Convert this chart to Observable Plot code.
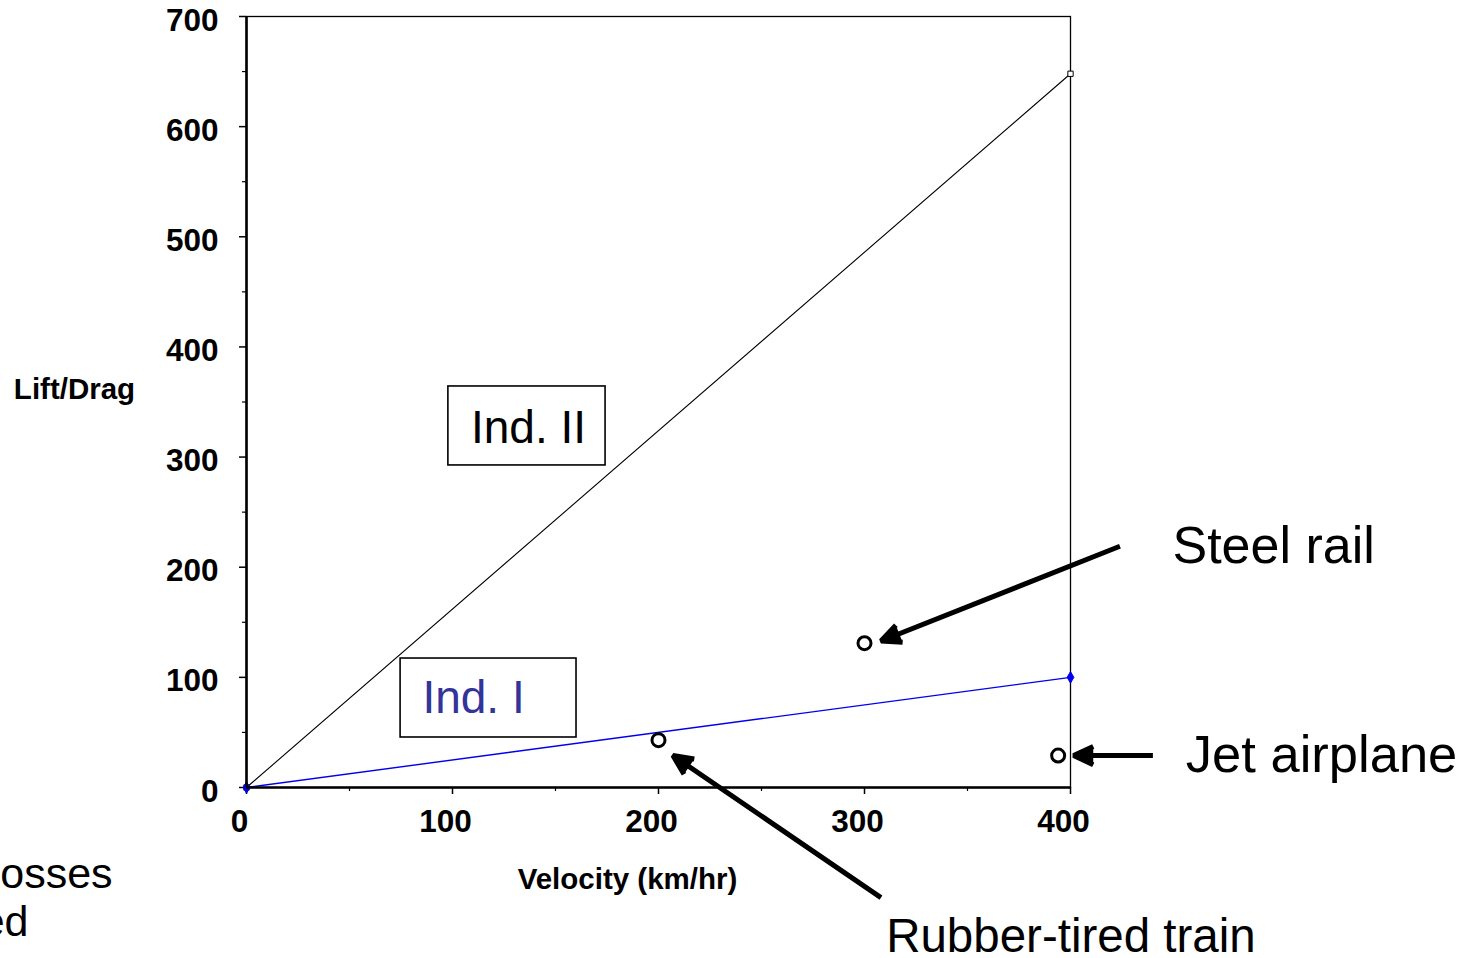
<!DOCTYPE html>
<html><head><meta charset="utf-8">
<script src="https://cdn.jsdelivr.net/npm/d3@7"></script>
<script src="https://cdn.jsdelivr.net/npm/@observablehq/plot@0.6"></script>
<style>
body{margin:0;background:#fff;}
#chart svg{font-family:"Liberation Sans",Arial,sans-serif;background:#fff;}
</style>
</head><body><div id="chart"></div>
<script>
// Lines (Lift/Drag vs velocity)
const velocity = [0, 400];
const indI = [0, 100];
const indII = [0, 648];

// Observed vehicles
const pointNames = ["Rubber-tired train", "Steel rail", "Jet airplane"];
const pointVelocity = [200, 300, 394];
const pointLiftDrag = [43, 131, 29];

// Annotation arrows (tail -> head) and labels, in data units
const arrowFromX = [308, 424, 440];
const arrowFromY = [-100, 219, 29];
const arrowToX = [207, 308, 401.5];
const arrowToY = [29, 133, 29];
const labelX = [310.5, 449.5, 456];
const labelY = [-136, 219, 29];
const labelSize = [47.5, 52, 52.5];

// Region boxes
const boxNames = ["Ind. II", "Ind. I"];
const boxX1 = [98, 74.8];
const boxX2 = [174.3, 160.2];
const boxY1 = [292.4, 45.4];
const boxY2 = [364.1, 117.1];
const boxTextX = [136.9, 85.4];
const boxTextY = [325.9, 80.8];
const boxTextColor = ["#000000", "#333399"];

// Cut-off side text
const sideText = ["losses", "ed"];
const sideX = [-65, -105.8];
const sideY = [-79, -122.6];

// Ticks
const xTicks = [0, 100, 200, 300, 400];
const xMinor = [50, 150, 250, 350];
const yTicks = [0, 100, 200, 300, 400, 500, 600, 700];
const yMinor = [50, 150, 250, 350, 450, 550, 650];
const xLabel = "Velocity (km/hr)";
const yLabel = "Lift/Drag";

const lineData = velocity.map((v, i) => ({v, I: indI[i], II: indII[i]}));
const points = pointNames.map((n, i) => ({n, x: pointVelocity[i], y: pointLiftDrag[i]}));
const arrows = pointNames.map((n, i) => ({x1: arrowFromX[i], y1: arrowFromY[i], x2: arrowToX[i], y2: arrowToY[i], lx: labelX[i], ly: labelY[i], fs: labelSize[i], n}));
const boxes = boxNames.map((n, i) => ({n, x1: boxX1[i], x2: boxX2[i], y1: boxY1[i], y2: boxY2[i], tx: boxTextX[i], ty: boxTextY[i], c: boxTextColor[i]}));
const side = sideText.map((t, i) => ({t, x: sideX[i], y: sideY[i]}));

const chart = Plot.plot({
  width: 1476,
  height: 958,
  marginLeft: 246,
  marginRight: 406,
  marginTop: 16,
  marginBottom: 171,
  x: {domain: [0, 400]},
  y: {domain: [0, 700]},
  marks: [
    Plot.frame({stroke: "black", strokeWidth: 1.3}),
    // ticks
    Plot.axisX(xTicks, {tickSize: 7, tickFormat: () => "", strokeWidth: 1.5, label: null}),
    Plot.axisX(xMinor, {tickSize: 4, tickFormat: () => "", strokeWidth: 1.2, label: null}),
    Plot.axisY(yTicks, {tickSize: 7, tickFormat: () => "", strokeWidth: 1.5, label: null}),
    Plot.axisY(yMinor, {tickSize: 4, tickFormat: () => "", strokeWidth: 1.2, label: null}),
    // tick labels
    Plot.text(xTicks, {x: d => d, text: d => String(d), frameAnchor: "bottom", dy: 44, dx: -7, fontSize: 31.5, fontWeight: "bold", fill: "black"}),
    Plot.text(yTicks, {y: d => d, text: d => String(d), frameAnchor: "left", textAnchor: "end", dx: -28, dy: 4, fontSize: 31.5, fontWeight: "bold", fill: "black"}),
    // axis titles
    Plot.text([yLabel], {text: d => d, frameAnchor: "left", textAnchor: "middle", dx: -172, dy: -12, fontSize: 29.5, fontWeight: "bold", fill: "black"}),
    Plot.text([xLabel], {text: d => d, frameAnchor: "bottom", textAnchor: "middle", dx: -31, dy: 101, fontSize: 29.5, fontWeight: "bold", fill: "black"}),
    // region boxes
    Plot.rect(boxes, {x1: "x1", x2: "x2", y1: "y1", y2: "y2", fill: "white", stroke: "black", strokeWidth: 1.6}),
    Plot.text(boxes.slice(0, 1), {x: "tx", y: "ty", text: "n", textAnchor: "middle", fill: d => d.c, fontSize: 46}),
    Plot.text(boxes.slice(1), {x: "tx", y: "ty", text: "n", textAnchor: "start", fill: d => d.c, fontSize: 46}),
    // lines
    Plot.line(lineData, {x: "v", y: "II", stroke: "black", strokeWidth: 1.1}),
    Plot.line(lineData, {x: "v", y: "I", stroke: "#0000ee", strokeWidth: 1.4}),
    Plot.dot(lineData, {x: "v", y: "II", symbol: "square", r: 3, stroke: "black", fill: "white", strokeWidth: 1}),
    Plot.dot(lineData, {x: "v", y: "I", symbol: "diamond", r: 3.5, fill: "#0000ee", stroke: "#0000ee", strokeWidth: 1}),
    // axes lines
    Plot.ruleX([0], {stroke: "black", strokeWidth: 2.6}),
    Plot.ruleY([0], {stroke: "black", strokeWidth: 2.6}),
    // vehicles
    Plot.dot(points, {x: "x", y: "y", r: 6.5, stroke: "black", strokeWidth: 3, fill: "white"}),
    // arrows and labels
    Plot.arrow(arrows, {x1: "x1", y1: "y1", x2: "x2", y2: "y2", stroke: "black", fill: "black", strokeWidth: 5, headLength: 6.5, headAngle: 50, strokeLinecap: "butt"}),
    Plot.text(arrows, {x: "lx", y: "ly", text: "n", textAnchor: "start", fontSize: "fs", fill: "black"}),
    Plot.text(side, {x: "x", y: "y", text: "t", textAnchor: "end", fontSize: 43, fill: "black"})
  ]
});
document.getElementById("chart").appendChild(chart);
</script>
</body></html>
